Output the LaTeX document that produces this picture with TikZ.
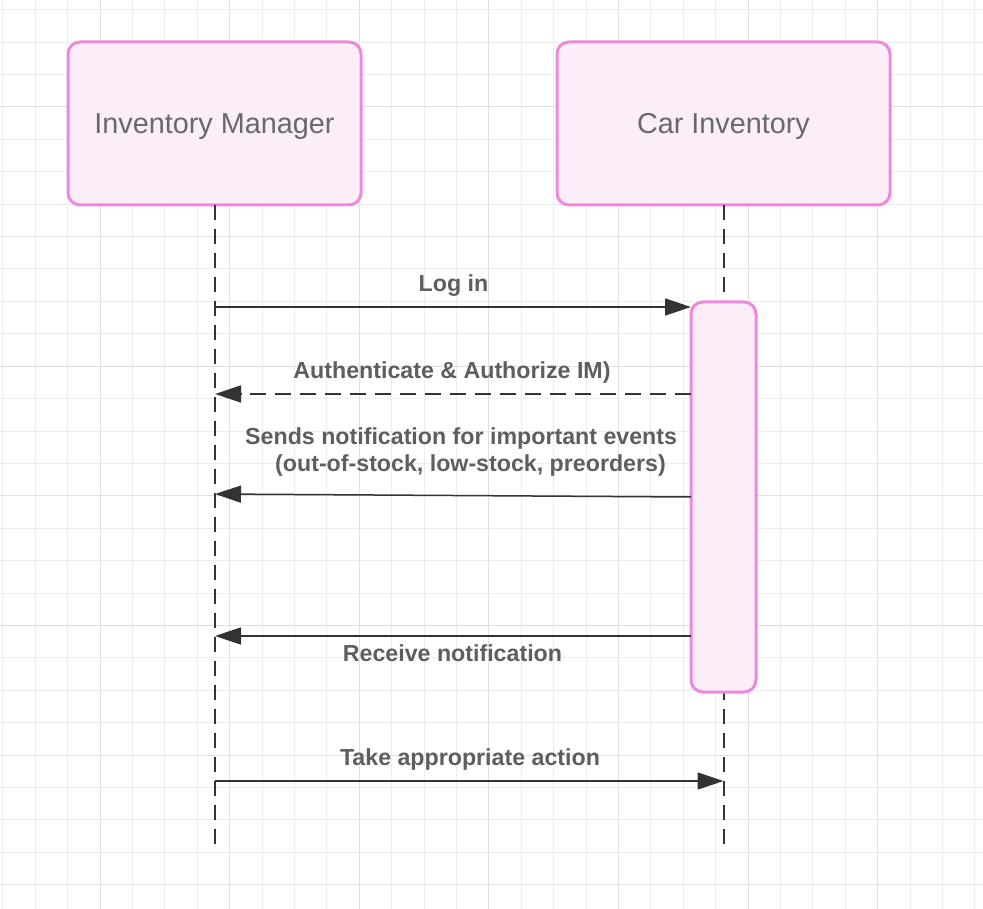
\documentclass[tikz,border=0pt]{standalone}
\usepackage{fontspec}
\setmainfont{Liberation Sans}
\usetikzlibrary{arrows.meta}
\definecolor{pinkline}{HTML}{EE88DD}
\definecolor{pinkfill}{HTML}{FCEEF8}
\definecolor{gridminor}{HTML}{EDEDED}
\definecolor{gridmajor}{HTML}{E0E0E0}
\definecolor{ink}{HTML}{333333}
\definecolor{lbl}{HTML}{5E5E5E}
\definecolor{boxtxt}{HTML}{696969}
\tikzset{
  actor/.style={draw=pinkline, fill=pinkfill, line width=3pt, rounded corners=12pt, minimum width=#1, minimum height=163pt, inner sep=0pt},
  actbar/.style={draw=pinkline, fill=pinkfill, line width=3pt, rounded corners=12pt, minimum width=65pt, minimum height=390pt, inner sep=0pt},
  lifeline/.style={draw=ink, line width=2pt, dash pattern=on 15pt off 9pt},
  msg/.style={draw=ink, line width=1.5pt, -{Triangle[length=26pt,width=17pt]}},
  rmsg/.style={msg, dash pattern=on 16pt off 9pt},
  msglabel/.style={text=lbl, font=\fontsize{23.2}{27}\selectfont\bfseries, inner sep=0pt, anchor=base},
  boxlabel/.style={text=boxtxt, font=\fontsize{28.8}{34}\selectfont, inner sep=0pt, anchor=base}
}
\begin{document}
\begin{tikzpicture}[x=1pt,y=-1pt]
\useasboundingbox (0,0) rectangle (983,909);
% grid
\foreach \i in {0,...,30} {
  \pgfmathsetmacro\xx{2.8+32.4*\i}
  \draw[gridminor, line width=1pt] (\xx,0) -- (\xx,909);
}
\foreach \i in {0,...,28} {
  \pgfmathsetmacro\yy{9.8+32.4*\i}
  \draw[gridminor, line width=1pt] (0,\yy) -- (983,\yy);
}
\foreach \i in {-1,...,7} {
  \pgfmathsetmacro\xx{100+129.6*\i}
  \draw[gridmajor, line width=1pt] (\xx,0) -- (\xx,909);
}
\foreach \i in {0,...,6} {
  \pgfmathsetmacro\yy{107+129.6*\i}
  \draw[gridmajor, line width=1pt] (0,\yy) -- (983,\yy);
}
% actors
\node[actor=293pt] (im) at (214.5,123.5) {};
\node[actor=333pt] (ci) at (723.5,123.5) {};
\node[boxlabel] (imt) at (214.5,133.3) {Inventory Manager};
\node[boxlabel] (cit) at (723.5,133.3) {Car Inventory};
% lifelines
\coordinate (imEnd) at (215,845);
\coordinate (ciEnd) at (723.5,845);
\draw[lifeline] (215,205) -- (imEnd);
\draw[lifeline] (723.5,205) -- (ciEnd);
% activation
\node[actbar] (act) at (723.5,497) {};
% message endpoints
\coordinate (m1a) at (215,307);
\coordinate (m1b) at (691,307);
\coordinate (m2a) at (691,394);
\coordinate (m2b) at (215,394);
\coordinate (m3a) at (691,497);
\coordinate (m3b) at (215,494);
\coordinate (m4a) at (691,636);
\coordinate (m4b) at (215,636);
\coordinate (m5a) at (215,781);
\coordinate (m5b) at (723.5,781);
\draw[msg] (m1a) -- (m1b);
\draw[rmsg] (m2a) -- (m2b);
\draw[msg] (m3a) -- (m3b);
\draw[msg] (m4a) -- (m4b);
\draw[msg] (m5a) -- (m5b);
% labels
\node[msglabel] (l1) at (453.5,292) {Log in};
\node[msglabel] (l2) at (452,378.5) {Authenticate \& Authorize IM)};
\node[msglabel, anchor=base west] (l3a) at (245,444.5) {Sends notification for important events};
\node[msglabel, anchor=base west] (l3b) at (275,471.5) {(out-of-stock, low-stock, preorders)};
\node[msglabel] (l4) at (452.5,661.5) {Receive notification};
\node[msglabel] (l5) at (470,765.5) {Take appropriate action};
\end{tikzpicture}
\end{document}
